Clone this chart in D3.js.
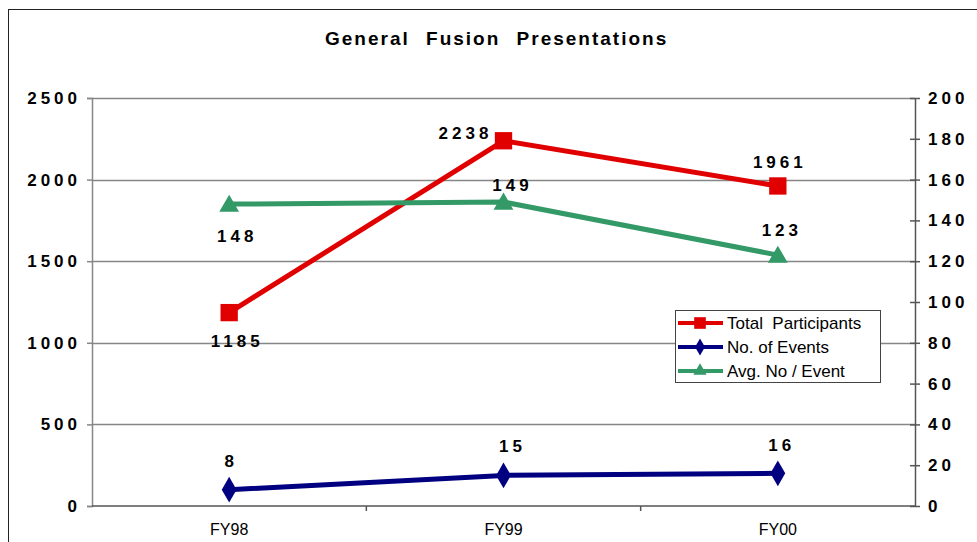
<!DOCTYPE html>
<html>
<head>
<meta charset="utf-8">
<script src="https://cdn.jsdelivr.net/npm/d3@7"></script>
<style>
  body { margin: 0; background: #fff; }
  svg { display: block; font-family: Arial, 'Liberation Sans', sans-serif; }
</style>
</head>
<body>
<div class="viz"></div>
<script>
'use strict'

const width = 977,
  height = 542;
const margin = {top: 98, right: 62, bottom: 36, left: 92};

// data
const years = ['FY98', 'FY99', 'FY00'];
const participants = [1185, 2238, 1961];
const events = [8, 15, 16];
const avg_per_event = [148, 149, 123];
const left_ticks = [0, 500, 1000, 1500, 2000, 2500];
const right_ticks = [0, 20, 40, 60, 80, 100, 120, 140, 160, 180, 200];
const series_names = ['Total  Participants', 'No. of Events', 'Avg. No / Event'];

const red = '#e00000',
  navy = '#000080',
  green = '#339966',
  grid = '#868686';
const num_font = 17,
  num_spacing = 4;

let svg = d3.select('.viz')
  .append('svg')
  .attr('width', width)
  .attr('height', height);

// outer chart frame (runs off the picture on the right and bottom)
svg.append('rect')
  .attr('x', 8.5)
  .attr('y', 9.5)
  .attr('width', width + 20)
  .attr('height', height + 20)
  .attr('fill', 'none')
  .attr('stroke', '#222')
  .attr('stroke-width', 1);

// title, clipped like the original
svg.append('clipPath')
  .attr('id', 'title_clip')
  .append('rect')
  .attr('x', 0).attr('y', 0)
  .attr('width', 678).attr('height', 80);
svg.append('text')
  .attr('clip-path', 'url(#title_clip)')
  .attr('x', 325)
  .attr('y', 45)
  .attr('font-size', 19)
  .attr('font-weight', 'bold')
  .attr('letter-spacing', 2)
  .attr('word-spacing', 9)
  .attr('fill', '#000')
  .text('General  Fusion  Presentations');

let x = d3.scaleBand()
  .domain(years)
  .range([margin.left, width - margin.right]);
const cx = d => x(d) + x.bandwidth() / 2;
let yl = d3.scaleLinear()
  .domain([0, 2500])
  .range([height - margin.bottom, margin.top]);
let yr = d3.scaleLinear()
  .domain([0, 200])
  .range([height - margin.bottom, margin.top]);

// gridlines
svg.append('g')
  .selectAll('line')
  .data(left_ticks.slice(1))
  .join('line')
  .attr('x1', margin.left)
  .attr('x2', width - margin.right)
  .attr('y1', d => Math.round(yl(d)) + 0.5)
  .attr('y2', d => Math.round(yl(d)) + 0.5)
  .attr('stroke', grid)
  .attr('stroke-width', 1.5);

function style_numbers(sel) {
  sel.attr('font-size', num_font)
    .attr('font-weight', 'bold')
    .attr('letter-spacing', num_spacing)
    .attr('fill', '#000')
    .style('font-family', 'Arial, Liberation Sans, sans-serif');
}

// left axis
let axis_l = svg.append('g')
  .attr('transform', `translate(${margin.left},0)`)
  .call(d3.axisLeft(yl).tickValues(left_ticks).tickSize(5).tickPadding(10).tickFormat(d3.format('d')));
axis_l.select('.domain').attr('stroke', grid).attr('stroke-width', 1.5);
axis_l.selectAll('.tick line').attr('stroke', grid).attr('stroke-width', 1.5);
axis_l.selectAll('.tick text').call(style_numbers).attr('dx', num_spacing);

// right axis
let axis_r = svg.append('g')
  .attr('transform', `translate(${width - margin.right},0)`)
  .call(d3.axisRight(yr).tickValues(right_ticks).tickSizeInner(5).tickSizeOuter(0).tickPadding(8));
axis_r.select('.domain').attr('stroke', '#555').attr('stroke-width', 1.5);
axis_r.selectAll('.tick line').attr('x1', -5).attr('stroke', '#555').attr('stroke-width', 1.5);
axis_r.selectAll('.tick text').call(style_numbers);

// bottom axis
let axis_b = svg.append('g')
  .attr('transform', `translate(0,${height - margin.bottom})`);
axis_b.append('line')
  .attr('x1', margin.left)
  .attr('x2', width - margin.right)
  .attr('stroke', '#555')
  .attr('stroke-width', 1.5);
axis_b.selectAll('.cat_tick')
  .data(years.slice(1))
  .join('line')
  .attr('class', 'cat_tick')
  .attr('x1', d => x(d))
  .attr('x2', d => x(d))
  .attr('y1', 0)
  .attr('y2', 5)
  .attr('stroke', '#555')
  .attr('stroke-width', 1.5);
axis_b.selectAll('text')
  .data(years)
  .join('text')
  .attr('x', d => cx(d))
  .attr('y', 29)
  .attr('text-anchor', 'middle')
  .attr('font-size', 16)
  .attr('fill', '#000')
  .text(d => d);

// series
const series = [
  {name: series_names[0], values: participants, y: yl, color: red, shape: d3.symbolSquare, size: 300,
    label_off: [[6, 28], [-40, -8], [0, -24]]},
  {name: series_names[1], values: events, y: yr, color: navy, shape: d3.symbolDiamond, size: 190,
    label_off: [[0, -29], [7, -29], [2, -28]]},
  {name: series_names[2], values: avg_per_event, y: yr, color: green, shape: d3.symbolTriangle, size: 170,
    label_off: [[6, 32], [7, -17], [2, -25]]}
];

let line = d3.line();
let g_series = svg.append('g')
  .selectAll('g')
  .data(series)
  .join('g');
g_series.append('path')
  .attr('d', s => line(s.values.map((v, i) => [cx(years[i]), s.y(v)])))
  .attr('fill', 'none')
  .attr('stroke', s => s.color)
  .attr('stroke-width', 5);
g_series.each(function(s) {
  d3.select(this).selectAll('path.marker')
    .data(s.values)
    .join('path')
    .attr('class', 'marker')
    .attr('d', d3.symbol().type(s.shape).size(s.size))
    .attr('transform', (v, i) => `translate(${cx(years[i])},${s.y(v) + (s.shape === d3.symbolTriangle ? 2 : 0)})`)
    .attr('fill', s.color);
  d3.select(this).selectAll('text')
    .data(s.values)
    .join('text')
    .attr('x', (v, i) => cx(years[i]) + s.label_off[i][0])
    .attr('y', (v, i) => s.y(v) + s.label_off[i][1])
    .attr('dx', num_spacing / 2)
    .attr('dy', '0.35em')
    .attr('text-anchor', 'middle')
    .call(style_numbers)
    .text(v => v);
});

// legend
let legend = svg.append('g')
  .attr('transform', 'translate(675,310)');
legend.append('rect')
  .attr('x', 0.5)
  .attr('y', 0.5)
  .attr('width', 205)
  .attr('height', 72)
  .attr('fill', '#fff')
  .attr('stroke', '#444')
  .attr('stroke-width', 1);
let items = legend.selectAll('.item')
  .data(series)
  .join('g')
  .attr('class', 'item')
  .attr('transform', (s, i) => `translate(0,${13 + i * 24})`);
items.append('line')
  .attr('x1', 3)
  .attr('x2', 48)
  .attr('stroke', s => s.color)
  .attr('stroke-width', 4);
items.append('path')
  .attr('d', s => d3.symbol().type(s.shape).size(s.size * 0.45)())
  .attr('transform', 'translate(25,0)')
  .attr('fill', s => s.color);
items.append('text')
  .attr('x', 52)
  .attr('dy', '0.36em')
  .attr('font-size', 17)
  .attr('fill', '#000')
  .text(s => s.name)
  .style('white-space', 'pre');
</script>
</body>
</html>
